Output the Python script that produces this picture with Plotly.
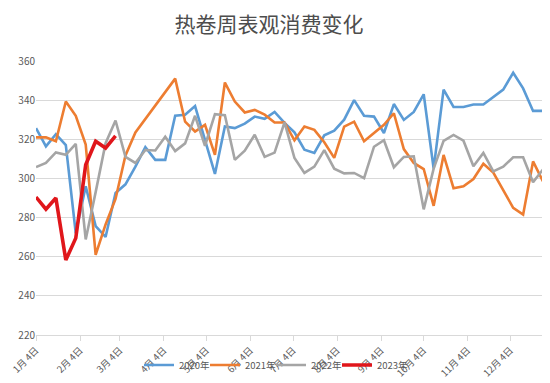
import pandas as pd
import plotly.graph_objects as go

# weekly positions (common reference year, non-leap)
weeks = pd.date_range("2021-01-04", periods=52, freq="7D")

tick_dates = ["2021-%02d-04" % m for m in range(1, 13)]
tick_labels = ["%d月 4日" % m for m in range(1, 13)]

y2020 = [325.7, 316.4, 322.6, 317, 272, 296, 275.6, 270.1, 292.6, 297,
         306, 316, 309.5, 309.5, 332, 332.5, 337, 320, 302.3, 326.5,
         325.7, 328, 331.6, 330.5, 334, 328.4, 323.6, 314.7, 313, 322,
         324.4, 330, 340, 332, 331.6, 323.2, 338, 329.9, 334, 343,
         305, 345.4, 336.5, 336.5, 337.8, 337.8, 341.8, 345.4, 354, 346,
         334.5, 334.5]
y2021 = [321, 321, 319, 339.3, 332, 317.3, 261, 276.5, 289.5, 311.7,
         323.5, 330.5, 337, 344, 351, 329, 324, 327.4, 312, 349,
         339.3, 333.7, 335, 332.6, 328.6, 328.6, 319.5, 326.5, 324.8, 318.5,
         310.5, 326.5, 329, 319, 323.2, 327.4, 333.3, 315, 307.9, 304.8,
         286, 312, 295, 296, 299.7, 307.5, 303, 294.3, 285, 281.5,
         308.7, 298.5]
y2022 = [305.8, 307.9, 313.3, 312.1, 317.7, 268.8, 293, 318, 329.6, 311,
         307.9, 314.5, 314.3, 321.3, 314, 317.9, 332, 316.7, 332.8, 332.3,
         309.5, 314.2, 322.3, 311, 313.2, 328.6, 310.4, 302.8, 306, 314.5,
         305, 302.6, 302.8, 300.2, 316.2, 319.5, 305.7, 311, 311.3, 284.2,
         305, 319.2, 322.2, 319.3, 306.2, 313, 303.6, 306, 310.8, 310.8,
         298.1, 304.6]
y2023 = [290.5, 284.3, 290, 258.3, 269.5, 307, 319, 315.5, 321.8]

series = [
    ("2020年", y2020, "#5b9bd5", 2.6),
    ("2021年", y2021, "#ed7d31", 2.6),
    ("2022年", y2022, "#a5a5a5", 2.6),
    ("2023年", y2023, "#e0161b", 3.6),
]
legend_names = ["legend", "legend2", "legend3", "legend4"]
legend_x_px = [131, 197, 263, 329]

font_family = "Noto Sans CJK SC, Noto Sans, sans-serif"

fig = go.Figure()
for (name, ys, color, w), lg in zip(series, legend_names):
    fig.add_trace(go.Scatter(
        x=weeks[:len(ys)], y=ys, mode="lines", name=name,
        line=dict(color=color, width=w), legend=lg,
    ))

legend_layout = {}
for lg, xp in zip(legend_names, legend_x_px):
    legend_layout[lg] = dict(
        xref="container", yref="container",
        x=xp / 550, xanchor="left",
        y=1 - 357 / 383, yanchor="middle",
        orientation="h", bgcolor="rgba(0,0,0,0)",
        font=dict(size=9.5, color="#595959", family=font_family),
        itemwidth=30,
    )

fig.update_layout(
    width=550, height=383,
    margin=dict(l=28, r=15, t=53, b=56),
    paper_bgcolor="white", plot_bgcolor="white",
    font=dict(family=font_family, color="#595959", size=10),
    title=dict(text="热卷周表观消费变化", xref="container", x=261 / 550,
               xanchor="center", yref="container", y=1 - 17 / 383,
               yanchor="middle",
               font=dict(size=21, color="#4d4d4d", family=font_family)),
    showlegend=True,
    xaxis=dict(
        type="date", automargin=False,
        range=["2021-01-04", "2021-12-27"],
        tickmode="array", tickvals=tick_dates, ticktext=tick_labels,
        tickangle=-45, tickfont=dict(size=9.5, color="#595959"),
        showgrid=False, showline=True, linecolor="#d9d9d9", linewidth=1,
        ticks="outside", ticklen=5, tickcolor="#d9d9d9",
        zeroline=False,
    ),
    yaxis=dict(
        range=[220, 360], dtick=20, tick0=220, automargin=False,
        showgrid=True, gridcolor="#d9d9d9", gridwidth=1,
        tickfont=dict(size=10, color="#595959"),
        zeroline=False, showline=False, ticks="",
    ),
    **legend_layout,
)

fig.write_html("out.html")
